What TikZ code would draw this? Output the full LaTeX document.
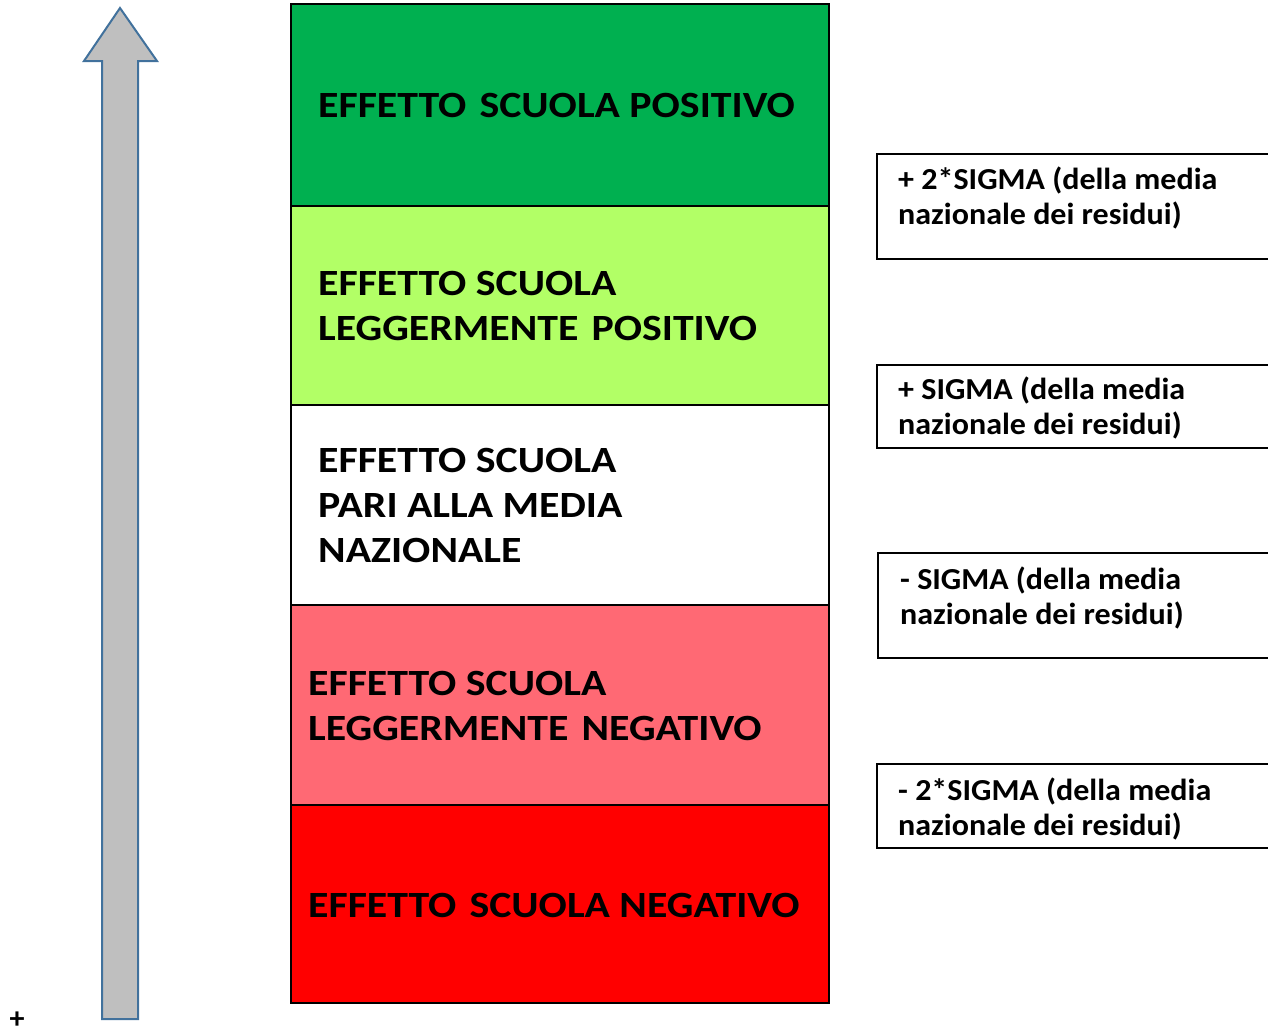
\documentclass[tikz,border=0pt]{standalone}
\usepackage{fontspec}
\setmainfont{Carlito}
\newfontfamily\fasciafont[FakeStretch=1.13]{Carlito}
\newfontfamily\sogliafont[FakeStretch=1.05]{Carlito}
\definecolor{verdepieno}{RGB}{0,176,80}
\definecolor{verdechiaro}{RGB}{178,255,102}
\definecolor{rosachiaro}{RGB}{255,105,116}
\definecolor{rossopieno}{RGB}{255,0,0}
\definecolor{grigiofreccia}{RGB}{191,191,191}
\definecolor{bordofreccia}{RGB}{65,113,156}
\newcommand{\spazio}{\hspace{0.1em}}
\tikzset{
  fascia/.style={draw=black,line width=2pt},
  testofascia/.style={anchor=west,inner sep=0pt,align=left,font=\fasciafont\fontsize{37}{45}\selectfont\bfseries},
  soglia/.style={draw=black,line width=1.5pt},
  testosoglia/.style={anchor=west,inner sep=0pt,align=left,font=\sogliafont\fontsize{30.5}{35}\selectfont\bfseries}
}

\begin{document}
\begin{tikzpicture}[x=1pt,y=-1pt,line join=miter]
\useasboundingbox (0,0) rectangle (1268,1029);
\clip (0,0) rectangle (1268,1029);
% freccia
\draw [line width=2pt,color=bordofreccia,fill=grigiofreccia] (102,1019)-- (102,61)-- (84,61)-- (120,8)-- (157,61)-- (138,61)-- (138,1019)-- cycle;
\node[anchor=base,inner sep=0pt,font=\fontsize{30}{30}\selectfont\bfseries] (piu) at (17,1028) {+};
% fasce
\draw [fascia,fill=verdepieno] (291,4) rectangle (829,206);
\draw [fascia,fill=verdechiaro] (291,206) rectangle (829,405);
\draw [fascia,fill=white] (291,405) rectangle (829,605);
\draw [fascia,fill=rosachiaro] (291,605) rectangle (829,805);
\draw [fascia,fill=rossopieno] (291,805) rectangle (829,1003);
\draw [line width=2.5pt] (291,4) rectangle (829,1003);
\node[testofascia] (fpos) at (318,105) {EFFETTO \spazio SCUOLA POSITIVO};
\node[testofascia] (flpos) at (318,305.5) {EFFETTO SCUOLA\\LEGGERMENTE \spazio POSITIVO};
\node[testofascia] (fmedia) at (318,505) {EFFETTO SCUOLA\\PARI ALLA MEDIA\\NAZIONALE};
\node[testofascia] (flneg) at (308,705.5) {EFFETTO SCUOLA\\LEGGERMENTE \spazio NEGATIVO};
\node[testofascia] (fneg) at (308,905) {EFFETTO \spazio SCUOLA NEGATIVO};
% soglie
\draw [soglia] (1280,154)-- (877,154)-- (877,259)-- (1280,259);
\draw [soglia] (1280,365)-- (877,365)-- (877,448)-- (1280,448);
\draw [soglia] (1280,553)-- (878,553)-- (878,658)-- (1280,658);
\draw [soglia] (1280,764)-- (877,764)-- (877,848)-- (1280,848);
\node[testosoglia] (s2piu) at (898,197.5) {+ 2*SIGMA (della media\\nazionale dei residui)};
\node[testosoglia] (s1piu) at (898,407.5) {+ SIGMA (della media\\nazionale dei residui)};
\node[testosoglia] (s1meno) at (900,597.5) {- SIGMA (della media\\nazionale dei residui)};
\node[testosoglia] (s2meno) at (898,808.5) {- 2*SIGMA (della media\\nazionale dei residui)};
\end{tikzpicture}
\end{document}
